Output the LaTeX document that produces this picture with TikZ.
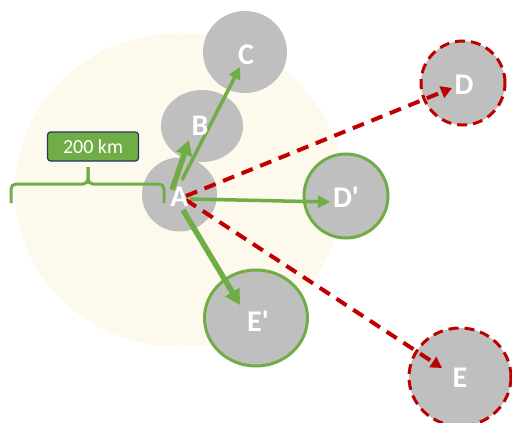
\documentclass[tikz,border=0pt]{standalone}
\usepackage{fontspec}
\setmainfont{Carlito}[Ligatures=TeXOff]
\usetikzlibrary{shapes.geometric,arrows.meta}
\definecolor{pgreen}{RGB}{112,173,71}
\definecolor{pred}{RGB}{192,0,0}
\definecolor{pgray}{RGB}{191,191,191}
\definecolor{pcream}{RGB}{254,249,237}
\definecolor{pnavy}{RGB}{32,56,100}
\tikzset{
  place/.style={ellipse, fill=pgray, inner sep=0pt, text=white, font=\bfseries\fontsize{30}{30}\selectfont},
  greenring/.style={place, draw=pgreen, line width=3pt},
  redring/.style={place, draw=pred, line width=3pt, dash pattern=on 10pt off 6pt},
  garrow/.style={draw=pgreen, line width=3.5pt, -{Triangle[length=12pt,width=12pt]}},
  gthick/.style={draw=pgreen, line width=5.5pt, -{Triangle[length=15pt,width=16pt]}},
  rarrow/.style={draw=pred, line width=4pt, dash pattern=on 12pt off 8pt, -{Triangle[length=11pt,width=12pt]}},
  bracepath/.style={draw=pgreen, line width=3pt, rounded corners=5pt},
  kmbox/.style={draw=pnavy, line width=1.2pt, fill=pgreen, rounded corners=3pt, text=white, minimum width=91pt, minimum height=29pt, inner sep=0pt, font=\fontsize{20}{20}\selectfont}
}
\begin{document}
\begin{tikzpicture}[x=1pt,y=-1pt]
\useasboundingbox (0,0) rectangle (512,423);
\fill[pcream] (179,190) ellipse [x radius=164, y radius=157];
% places
\node[place, minimum width=75pt, minimum height=74pt] (A) at (179.5,194.5) {};
\node[place, minimum width=82pt, minimum height=72pt] (B) at (202,126) {};
\node[place, minimum width=84pt, minimum height=82pt] (C) at (245,52) {};
\node[redring, minimum width=84pt, minimum height=84pt] (D) at (463,83) {};
\node[greenring, minimum width=84pt, minimum height=84pt] (Dp) at (346,196) {};
\node[greenring, minimum width=103pt, minimum height=96pt] (Ep) at (256,318) {};
\node[redring, minimum width=102pt, minimum height=98pt] (E) at (460,377) {};
% brace
\draw[bracepath] (11,203) -- (11,184) -- (88,184) -- (88,167);
\draw[bracepath] (88,167) -- (88,184) -- (164,184) -- (164,203);
\node[kmbox] (km) at (93,146.5) {200 km};
% connectors
\draw[gthick] ([shift={(-7.5,-4.5)}]A.center) -- ([shift={(-13,14)}]B.center);
\draw[garrow] ([shift={(2.5,-14.5)}]A.center) -- ([shift={(-5,15)}]C.center);
\draw[garrow] ([shift={(10.5,4.5)}]A.center) -- ([shift={(-16,6)}]Dp.center);
\draw[gthick] ([shift={(3.5,15.5)}]A.center) -- ([shift={(-16,-13)}]Ep.center);
\draw[rarrow] ([shift={(6.5,1.5)}]A.center) -- ([shift={(-11,5)}]D.center);
\draw[rarrow] ([shift={(6.5,5.5)}]A.center) -- ([shift={(-18,-9)}]E.center);
% labels
\tikzset{lbl/.style={text=white, inner sep=0pt, font=\bfseries\fontsize{30}{30}\selectfont}}
\node[lbl] (lA) at ([shift={(0,2)}]A.center) {A};
\node[lbl] (lB) at ([shift={(-2,0)}]B.center) {B};
\node[lbl] (lC) at ([shift={(1,3)}]C.center) {C};
\node[lbl] (lD) at ([shift={(1,2)}]D.center) {D};
\node[lbl] (lDp) at ([shift={(0,1)}]Dp.center) {D'};
\node[lbl] (lEp) at ([shift={(2,3)}]Ep.center) {E'};
\node[lbl] (lE) at ([shift={(0,1)}]E.center) {E};
\end{tikzpicture}
\end{document}
